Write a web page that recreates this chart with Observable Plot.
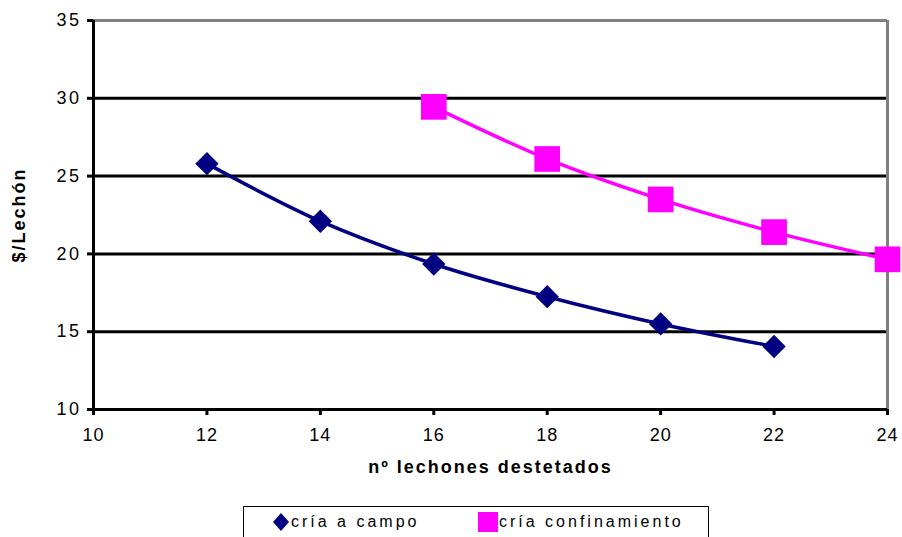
<!DOCTYPE html>
<html>
<head>
<meta charset="utf-8">
<script src="https://cdn.jsdelivr.net/npm/d3@7"></script>
<script src="https://cdn.jsdelivr.net/npm/@observablehq/plot@0.6"></script>
<style>
  html, body { margin: 0; padding: 0; background: #fff; width: 902px; height: 537px; overflow: hidden; }
  #wrap { position: relative; width: 902px; height: 537px; font-family: "Liberation Sans", Arial, sans-serif; }
  #chart svg { display: block; }
  #chart svg text { font-size: 18px; }
  g[aria-label="x-axis label"] text, g[aria-label="y-axis label"] text { font-weight: bold; font-size: 17.5px; letter-spacing: 2px; }
  g[aria-label="y-axis tick label"] text { letter-spacing: 2.5px; }
  g[aria-label="x-axis tick label"] text { letter-spacing: 1px; }
  #legend { position: absolute; left: 243px; top: 506px; width: 466px; height: 40px; border: 1px solid #000; box-sizing: border-box; background: #fff; }
  .item { position: absolute; top: 5px; font-size: 16px; letter-spacing: 3px; color: #000; line-height: 20px; white-space: nowrap; }
</style>
</head>
<body>
<div id="wrap">
  <div id="chart"></div>
  <div id="legend">
    <div class="item" style="left:28px"><svg width="19" height="20" style="vertical-align:top"><polygon points="9,1 17,10 9,19 1,10" fill="#000080"/></svg>cría a campo</div>
    <div class="item" style="left:234px"><svg width="21" height="20" style="vertical-align:top"><rect x="0" y="0" width="20" height="20" fill="#FF00FF"/></svg>cría confinamiento</div>
  </div>
</div>
<script>
const xTicks = [10, 12, 14, 16, 18, 20, 22, 24];
const yTicks = [10, 15, 20, 25, 30, 35];
const campoX = [12, 14, 16, 18, 20, 22];
const campoY = [25.8, 22.1, 19.35, 17.25, 15.5, 14.05];
const confX = [16, 18, 20, 22, 24];
const confY = [29.45, 26.1, 23.5, 21.4, 19.65];
const seriesNames = ["cría a campo", "cría confinamiento"];

const campo = campoX.map((x, i) => ({x, y: campoY[i]}));
const conf = confX.map((x, i) => ({x, y: confY[i]}));

const chart = Plot.plot({
  width: 902,
  height: 500,
  marginLeft: 93,
  marginRight: 15,
  marginTop: 20,
  marginBottom: 91,
  style: { fontFamily: "Liberation Sans, Arial, sans-serif", fontSize: "18px", color: "#000", background: "#fff" },
  x: { domain: [10, 24] },
  y: { domain: [10, 35] },
  marks: [
    Plot.ruleY([15, 20, 25, 30], { stroke: "#000", strokeWidth: 3 }),
    Plot.ruleY([35], { stroke: "#808080", strokeWidth: 3 }),
    Plot.ruleX([24], { stroke: "#808080", strokeWidth: 3 }),
    Plot.ruleX([10], { stroke: "#000", strokeWidth: 3 }),
    Plot.ruleY([10], { stroke: "#000", strokeWidth: 3 }),
    Plot.axisX({ ticks: xTicks, tickSize: 6, strokeWidth: 3, tickPadding: 13, label: "nº lechones destetados", labelAnchor: "center", labelOffset: 63, labelArrow: "none" }),
    Plot.axisY({ ticks: yTicks, tickSize: 6, strokeWidth: 3, tickPadding: 6, label: "$/Lechón", labelAnchor: "center", labelOffset: 81, labelArrow: "none" }),
    Plot.line(campo, { x: "x", y: "y", curve: "catmull-rom", stroke: "#000080", strokeWidth: 3.5 }),
    Plot.line(conf, { x: "x", y: "y", curve: "catmull-rom", stroke: "#FF00FF", strokeWidth: 3.5 }),
    Plot.dot(campo, { x: "x", y: "y", symbol: "diamond2", r: 10.5, fill: "#000080", stroke: "none", title: () => seriesNames[0] }),
    Plot.dot(conf, { x: "x", y: "y", symbol: "square", r: 14.5, fill: "#FF00FF", stroke: "none", title: () => seriesNames[1] })
  ]
});
document.getElementById("chart").appendChild(chart);
</script>
</body>
</html>
